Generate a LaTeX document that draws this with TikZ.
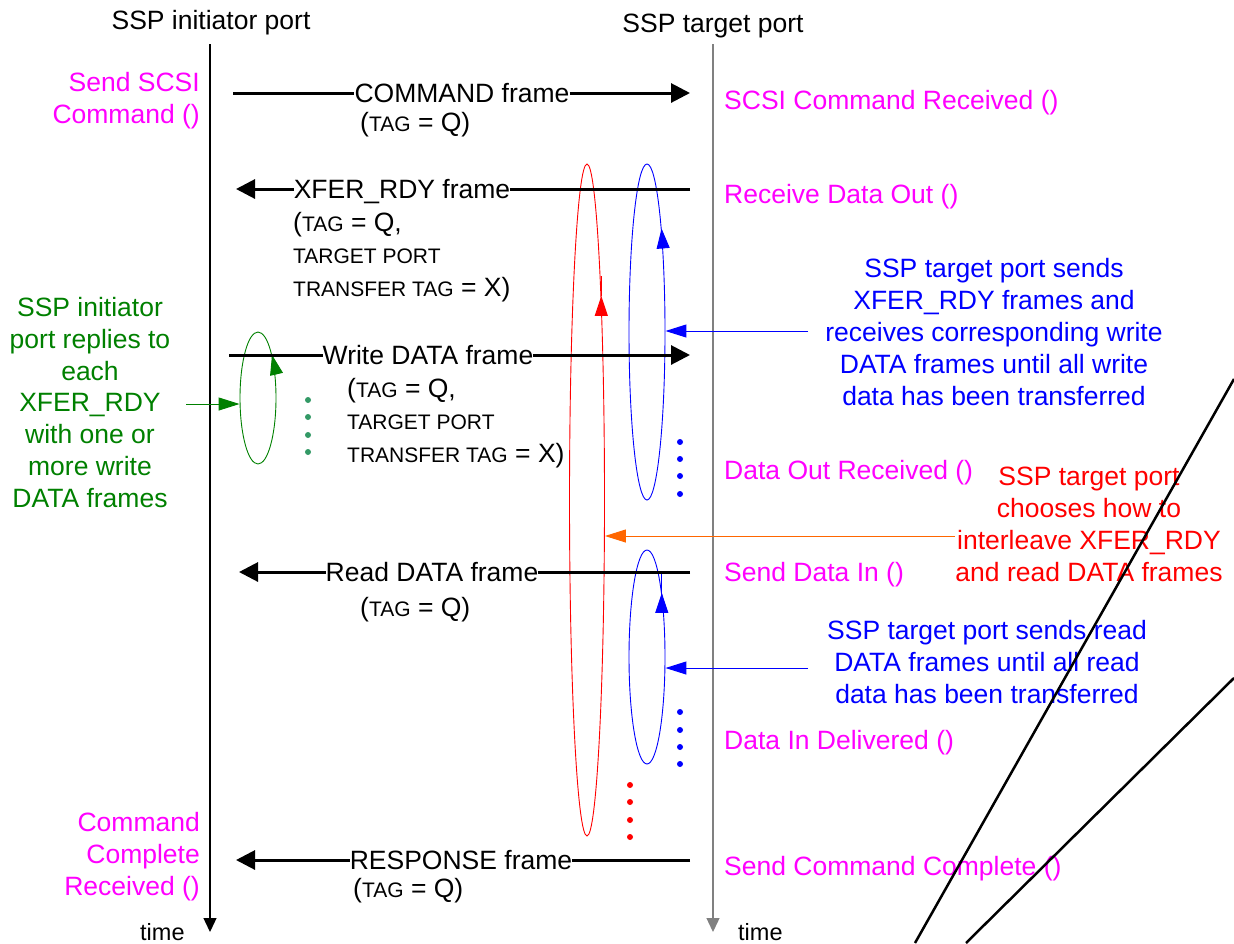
\documentclass[tikz,border=0pt]{standalone}
\usepackage{fontspec}
\setmainfont{Liberation Sans}
\usetikzlibrary{arrows.meta, shapes.geometric}
\definecolor{spmagenta}{HTML}{FF00FF}
\definecolor{spgreen}{HTML}{008000}
\definecolor{spdots}{HTML}{339966}
\definecolor{spblue}{HTML}{0000FF}
\definecolor{spred}{HTML}{FF0000}
\definecolor{sporange}{HTML}{FF6600}
\definecolor{spgray}{HTML}{808080}
\newcommand{\smc}[1]{{\fontsize{21}{25}\selectfont #1}}

\begin{document}
\begin{tikzpicture}[x=1pt, y=-1pt,
  every node/.style={font=\fontsize{26.5}{32}\selectfont, inner sep=0pt},
  lifeline/.style={line width=1.3pt, -{Triangle[length=14pt, width=13pt]}},
  msg/.style={line width=3pt, -{Triangle[length=19pt, width=19pt]}},
  msgline/.style={line width=3pt},
  framelbl/.style={text height=19pt, text depth=0pt},
  tagtext/.style={anchor=base west, align=left, font=\fontsize{26.5}{32.5}\selectfont},
  event/.style={text=spmagenta},
  noteline/.style={line width=1pt, -{Triangle[length=21pt, width=13pt]}},
  ring/.style={draw, ellipse, line width=0.9pt},
  looptip/.style={line width=0.9pt, -{Triangle[length=20pt, width=13pt]}},
]
\useasboundingbox (0,0) rectangle (1234,943);
\node[anchor=base] (initp) at (211,29) {SSP initiator port};
\node[anchor=base] (targp) at (713,32) {SSP target port};
\coordinate (ini-top) at (210,44);
\coordinate (ini-bot) at (210,932);
\coordinate (tgt-top) at (713,44);
\coordinate (tgt-bot) at (713,932);
\draw[lifeline] (ini-top) -- (ini-bot);
\draw[lifeline, spgray] (tgt-top) -- (tgt-bot);
\node[anchor=base west, font=\fontsize{23.5}{28}\selectfont] (itime) at (140,940) {time};
\node[anchor=base west, font=\fontsize{23.5}{28}\selectfont] (ttime) at (738,940) {time};

\node[event, anchor=base east, align=right] (sendcmd) at (200,123) {Send SCSI\\Command ()};
\node[event, anchor=base east, align=right] (cmdcomp) at (200,895) {Command\\Complete\\Received ()};
\node[event, anchor=base west] (cmdrcv) at (724,109) {SCSI Command Received ()};
\node[event, anchor=base west] (rcvout) at (724,203) {Receive Data Out ()};
\node[event, anchor=base west] (outrcv) at (724,479) {Data Out Received ()};
\node[event, anchor=base west] (sendin) at (724,581) {Send Data In ()};
\node[event, anchor=base west] (indlv) at (724,749) {Data In Delivered ()};
\node[event, anchor=base west] (sendcc) at (724,875) {Send Command Complete ()};

\node[ring, spgreen, minimum width=36, minimum height=132] (gring) at (258,398) {};
\node[ring, spred, minimum width=35, minimum height=672] (rring) at (587,500) {};
\node[ring, spblue, minimum width=36, minimum height=336] (bring1) at (647,332) {};
\node[ring, spblue, minimum width=36, minimum height=214] (bring2) at (647,657) {};
\draw[looptip, spgreen] (gring.71.5) -- (gring.72.3);
\draw[looptip, spred] (rring.86.0) -- (rring.86.3);
\draw[looptip, spblue] (bring1.81.8) -- (bring1.82.2);
\draw[looptip, spblue] (bring2.77.0) -- (bring2.77.6);
\foreach \y in {400,417,435,452} \fill[spdots] (308,\y) circle (3);
\foreach \y in {442,459,476,494} \fill[spblue] (680,\y) circle (3);
\foreach \y in {712,730,747,764} \fill[spblue] (680,\y) circle (3);
\foreach \y in {785,802,820,837} \fill[spred] (630,\y) circle (3);

\node[framelbl] (cmd) at (462,93) {COMMAND frame};
\coordinate (cmd-a) at (233,93);
\coordinate (cmd-b) at (690,93);
\draw[msgline] (cmd-a) -- (cmd.west);
\draw[msg] (cmd.east) -- (cmd-b);
\node[tagtext] (cmdtag) at (360,131) {(\smc{TAG} = Q)};

\node[framelbl] (xfer) at (402,189) {XFER\_RDY frame};
\coordinate (xfer-a) at (690,189);
\coordinate (xfer-b) at (236,189);
\draw[msgline] (xfer-a) -- (xfer.east);
\draw[msg] (xfer.west) -- (xfer-b);
\node[tagtext] (xfertag) at (293,296) {(\smc{TAG} = Q,\\\smc{TARGET PORT}\\\smc{TRANSFER TAG} = X)};

\node[framelbl] (wdata) at (428,355) {Write DATA frame};
\coordinate (wdata-a) at (229,355);
\coordinate (wdata-b) at (690,355);
\draw[msgline] (wdata-a) -- (wdata.west);
\draw[msg] (wdata.east) -- (wdata-b);
\node[tagtext] (wdatatag) at (347,462) {(\smc{TAG} = Q,\\\smc{TARGET PORT}\\\smc{TRANSFER TAG} = X)};

\node[framelbl] (rdata) at (432,572) {Read DATA frame};
\coordinate (rdata-a) at (690,572);
\coordinate (rdata-b) at (239,572);
\draw[msgline] (rdata-a) -- (rdata.east);
\draw[msg] (rdata.west) -- (rdata-b);
\node[tagtext] (rdatatag) at (360,616) {(\smc{TAG} = Q)};

\node[framelbl] (resp) at (461,860) {RESPONSE frame};
\coordinate (resp-a) at (690,860);
\coordinate (resp-b) at (236,860);
\draw[msgline] (resp-a) -- (resp.east);
\draw[msg] (resp.west) -- (resp-b);
\node[tagtext] (resptag) at (353,897) {(\smc{TAG} = Q)};

\node[text=spgreen, align=center, anchor=base, font=\fontsize{26.5}{31.7}\selectfont] (ininote) at (90,507) {SSP initiator\\port replies to\\each\\XFER\_RDY\\with one or\\more write\\DATA frames};
\node[text=spblue, align=center, anchor=base] (wrnote) at (994,405) {SSP target port sends\\XFER\_RDY frames and\\receives corresponding write\\DATA frames until all write\\data has been transferred};
\node[text=spred, align=center, anchor=base] (mixnote) at (1089,581) {SSP target port\\chooses how to\\interleave XFER\_RDY\\and read DATA frames};
\node[text=spblue, align=center, anchor=base] (rdnote) at (987,703) {SSP target port sends read\\DATA frames until all read\\data has been transferred};
\coordinate (gsrc) at (186,404);
\coordinate (wsrc) at (808,331);
\coordinate (osrc) at (955,536);
\coordinate (rsrc) at (808,668);
\draw[noteline, spgreen] (gsrc) -- (gring.west |- gsrc);
\draw[noteline, spblue] (wsrc) -- (bring1.east |- wsrc);
\draw[noteline, sporange] (osrc) -- (rring.east |- osrc);
\draw[noteline, spblue] (rsrc) -- (bring2.east |- rsrc);

\draw[line width=2.5pt] (915,943) -- (1234,379);
\draw[line width=2.5pt] (966,943) -- (1234,678);
\end{tikzpicture}
\end{document}
